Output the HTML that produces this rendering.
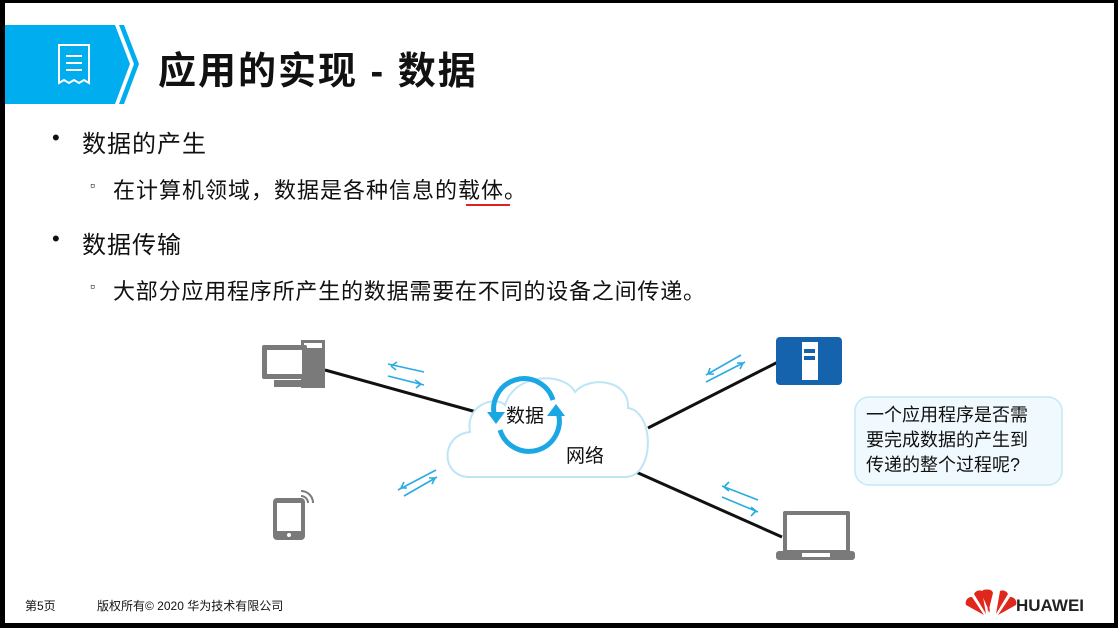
<!DOCTYPE html>
<html><head><meta charset="utf-8"><style>
body{margin:0;width:1118px;height:628px;background:#000;position:relative;overflow:hidden;font-family:"Liberation Sans","Noto Sans CJK SC",sans-serif}
.p{position:absolute;left:5px;top:3px;width:1109px;height:620px;background:#fff}
.t{position:absolute;white-space:nowrap;color:#111}
</style></head><body>
<div class="p"></div>
<svg width="1118" height="628" style="position:absolute;left:0;top:0">
<polygon points="5,25 115,25 130,64 115,104 5,104" fill="#00aeef"/>
<polygon points="119,25 124,25 139,64 124,104 119,104 134,64" fill="#00aeef"/>
<g fill="none" stroke="#fff" stroke-width="2">
<path d="M59,45 h30 v38 l-5,-3 -5,3 -5,-3 -5,3 -5,-3 -5,3 z"/>
<path d="M66,56 h16 M66,63 h16 M66,70 h16"/>
</g>
<line x1="466" y1="205" x2="510" y2="205" stroke="#e02020" stroke-width="2"/>
<g stroke="#111" stroke-width="3">
<line x1="325" y1="370" x2="480" y2="413"/>
<line x1="648" y1="428" x2="778" y2="362"/>
<line x1="636" y1="472" x2="782" y2="537"/>
</g>
<path d="M470,477 C440,477 440,435 470,432 C465,405 495,395 505,405 C515,372 565,372 575,392 C590,375 630,380 628,408 C655,412 655,477 625,477 Z" fill="#fff" stroke="#bde5f5" stroke-width="2"/>
<g stroke="#29abe2" stroke-width="1.6" fill="none">
<path d="M388,364 L424,372 M391,366 l6,-4 M391,366 l5,4"/>
<path d="M388,376 L424,385 M421,384 l-6,-4 M421,384 l-5,4"/>
<path d="M398,490 L436,470 M401,488 l3,-6 M401,488 l6,0"/>
<path d="M404,496 L437,477 M435,478 l-6,0 M435,478 l-3,6"/>
<path d="M706,375 L741,355 M708,374 l2,-6 M708,374 l6,0"/>
<path d="M706,382 L745,362 M743,363 l-6,0 M743,363 l-3,6"/>
<path d="M722,486 L758,500 M724,487 l5,-5 M724,487 l5,4"/>
<path d="M722,497 L758,512 M756,511 l-5,-4 M756,511 l-5,5"/>
</g>
<g stroke="#1aa7e4" stroke-width="5" fill="none">
<path d="M495,418 A30,30 0 0 1 553,400"/>
<path d="M558,412 A30,30 0 0 1 500,430"/>
</g>
<polygon points="487,412 505,412 496,424" fill="#1aa7e4"/>
<polygon points="547,416 565,416 556,404" fill="#1aa7e4"/>
<g fill="#7a7a7a">
<rect x="301" y="340" width="24" height="48"/>
<rect x="304" y="343" width="18" height="5" fill="#fff"/>
<rect x="262" y="345" width="45" height="34" rx="2"/>
<rect x="267" y="350" width="35" height="24" fill="#fff"/>
<rect x="274" y="380" width="28" height="7"/>
<rect x="273" y="498" width="32" height="42" rx="4"/>
<rect x="277" y="503" width="24" height="28" fill="#fff"/>
<circle cx="289" cy="535" r="2" fill="#fff"/>
<rect x="783" y="511" width="67" height="43" rx="2"/>
<rect x="787" y="515" width="59" height="35" fill="#fff"/>
<rect x="776" y="551" width="79" height="9" rx="3"/>
<rect x="802" y="553" width="28" height="4" fill="#fff"/>
</g>
<path d="M301,496 a7,7 0 0 1 7,7 M301,491 a12,12 0 0 1 12,12" stroke="#7a7a7a" stroke-width="2" fill="none"/>
<rect x="776" y="337" width="66" height="48" rx="4" fill="#1563ad"/>
<rect x="802" y="342" width="16" height="38" fill="#fff"/>
<rect x="804" y="349" width="11" height="4" fill="#1563ad"/>
<rect x="804" y="356" width="11" height="4" fill="#1563ad"/>
<rect x="855" y="397" width="207" height="88" rx="14" fill="#f0f9fd" stroke="#c4e8f7" stroke-width="1.5"/>
<g fill="#e1261c" transform="translate(-12,0)">
<path d="M996,615 l-18,-10 a6,6 0 0 1 6,-8 z"/>
<path d="M998,614 l-12,-20 a6,6 0 0 1 8,-3 z"/>
<path d="M1000,613 l-2,-23 a5,5 0 0 1 7,3 z"/>
<path d="M1004,613 l2,-23 a5,5 0 0 1 7,3 z" transform="scale(-1,1) translate(-2006,0)"/>
<path d="M998,614 l-12,-20 a6,6 0 0 1 8,-3 z" transform="scale(-1,1) translate(-2006,0)"/>
<path d="M996,615 l-18,-10 a6,6 0 0 1 6,-8 z" transform="scale(-1,1) translate(-2006,0)"/>
</g>
</svg>
<div class="t" style="left:158px;top:40px;font-size:38px;font-weight:bold;letter-spacing:2px">应用的实现 - 数据</div>
<div class="t" style="left:52px;top:125px;font-size:22px">•</div>
<div class="t" style="left:82px;top:124px;font-size:24px;letter-spacing:1px">数据的产生</div>
<div class="t" style="left:90px;top:177px;font-size:14px">▫</div>
<div class="t" style="left:113px;top:173px;font-size:22px;letter-spacing:1px">在计算机领域，数据是各种信息的载体。</div>
<div class="t" style="left:52px;top:226px;font-size:22px">•</div>
<div class="t" style="left:82px;top:225px;font-size:24px;letter-spacing:1px">数据传输</div>
<div class="t" style="left:90px;top:278px;font-size:14px">▫</div>
<div class="t" style="left:113px;top:274px;font-size:22px;letter-spacing:0.8px">大部分应用程序所产生的数据需要在不同的设备之间传递。</div>
<div class="t" style="left:506px;top:401px;font-size:19px">数据</div>
<div class="t" style="left:566px;top:441px;font-size:19px">网络</div>
<div class="t" style="left:866px;top:403px;font-size:18px;line-height:25px">一个应用程序是否需<br>要完成数据的产生到<br>传递的整个过程呢?</div>
<div class="t" style="left:25px;top:597px;font-size:12px">第5页</div>
<div class="t" style="left:97px;top:597px;font-size:12px">版权所有© 2020 华为技术有限公司</div>
<div class="t" style="left:1016px;top:596px;font-size:17px;font-weight:bold;color:#222">HUAWEI</div>
</body></html>
